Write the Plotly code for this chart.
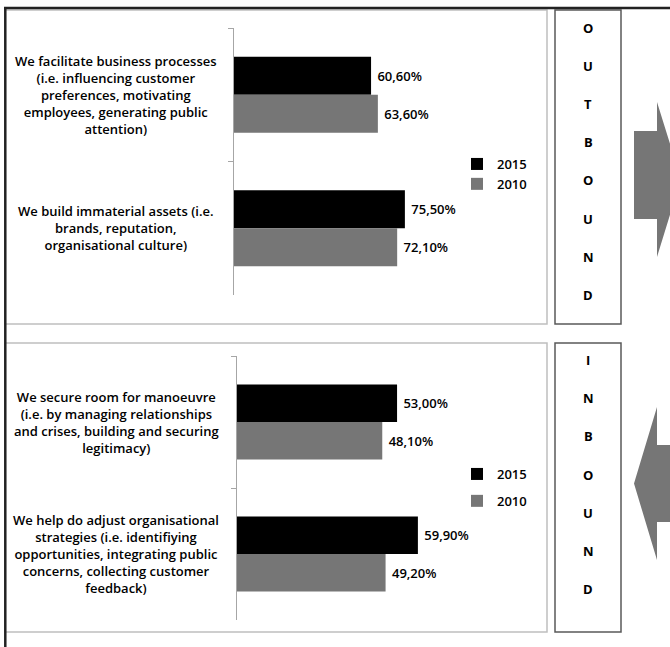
import plotly.graph_objects as go

# ---- data -------------------------------------------------------------
outbound_categories = [
    "We facilitate business processes<br>(i.e. influencing customer<br>preferences, motivating<br>employees, generating public<br>attention)",
    "We build immaterial assets (i.e.<br>brands, reputation,<br>organisational culture)",
]
outbound_2015 = [60.6, 75.5]
outbound_2010 = [63.6, 72.1]

inbound_categories = [
    "We secure room for manoeuvre<br>(i.e. by managing relationships<br>and crises, building and securing<br>legitimacy)",
    "We help do adjust organisational<br>strategies (i.e. identifiying<br>opportunities, integrating public<br>concerns, collecting customer<br>feedback)",
]
inbound_2015 = [53.0, 59.9]
inbound_2010 = [48.1, 49.2]

series_names = ["2015", "2010"]
outbound_letters = list("OUTBOUND")
inbound_letters = list("INBOUND")

# ---- styling ----------------------------------------------------------
W, H = 670, 647
FONT = "Open Sans"
BLACK = "#000000"
GREY = "#767676"
AXIS_GREY = "#a6a6a6"
PANEL_GREY = "#bfbfbf"
BOX_GREY = "#595959"


def px(xp):
    return xp / W


def py(yp):
    return 1 - yp / H


fig = go.Figure()

value_font = dict(family=FONT, size=13, color="black", weight=600)


def add_bars(cats, v2015, v2010, xa, ya, legend):
    for name, vals, color in ((series_names[0], v2015, BLACK), (series_names[1], v2010, GREY)):
        fig.add_trace(go.Bar(
            y=cats, x=vals, name=name, orientation="h",
            marker=dict(color=color, line=dict(width=0)),
            texttemplate="\u00a0%{x:.2f}%", textposition="outside",
            textfont=value_font, constraintext="none", cliponaxis=False,
            xaxis=xa, yaxis=ya, legend=legend, legendgroup=legend + name,
            hoverinfo="skip",
        ))


add_bars(outbound_categories, outbound_2015, outbound_2010, "x", "y", "legend")
add_bars(inbound_categories, inbound_2015, inbound_2010, "x2", "y2", "legend2")

yaxis_common = dict(
    type="category", showline=True, linecolor=AXIS_GREY, linewidth=1,
    ticks="outside", tickson="boundaries", ticklen=5, tickcolor=AXIS_GREY,
    showticklabels=False, showgrid=False, zeroline=False, range=[1.5, -0.5],
)
xaxis_common = dict(visible=False, showgrid=False, zeroline=False)
legend_font = dict(family=FONT, size=13, color="black", weight=600)

fig.update_layout(
    width=W, height=H, margin=dict(l=0, r=0, t=0, b=0),
    paper_bgcolor="white", plot_bgcolor="rgba(0,0,0,0)",
    barmode="group", bargap=0.43, bargroupgap=0, separators=",.",
    font=dict(family=FONT, size=13, color="black"),
    xaxis=dict(domain=[px(233.5), px(460.5)], range=[0, 100], anchor="y", **xaxis_common),
    yaxis=dict(domain=[py(295), py(28)], anchor="x", **yaxis_common),
    xaxis2=dict(domain=[px(237), px(448.4)], range=[0, 70], anchor="y2", **xaxis_common),
    yaxis2=dict(domain=[py(620), py(356)], anchor="x2", **yaxis_common),
    legend=dict(x=px(457), y=py(149), xanchor="left", yanchor="top",
                bgcolor="rgba(0,0,0,0)", borderwidth=0, traceorder="normal",
                font=legend_font),
    legend2=dict(x=px(457), y=py(459), xanchor="left", yanchor="top",
                 bgcolor="rgba(0,0,0,0)", borderwidth=0, traceorder="grouped",
                 tracegroupgap=7, font=legend_font),
)

# category labels, centred to the left of each axis
annotations = []
for cats, ya, cx in ((outbound_categories, "y", 116), (inbound_categories, "y2", 116)):
    for c in cats:
        annotations.append(dict(
            x=px(cx), xref="paper", y=c, yref=ya, text=c, showarrow=False,
            align="center", xanchor="center", yanchor="middle",
            font=dict(family=FONT, size=13, color="black", weight=600),
        ))


# vertical letters in the side boxes
def letter_column(letters, top, step):
    for i, ch in enumerate(letters):
        annotations.append(dict(
            x=px(588), y=py(top + i * step), xref="paper", yref="paper",
            text=ch, showarrow=False, xanchor="center", yanchor="middle",
            font=dict(family=FONT, size=13, color="black", weight="bold"),
        ))


letter_column(outbound_letters, 28, 38.1)
letter_column(inbound_letters, 360, 38.2)
fig.update_layout(annotations=annotations)

shapes = []
# panel frames
for top, bottom in ((10, 324), (343, 632)):
    shapes.append(dict(type="rect", xref="paper", yref="paper",
                       x0=px(5), x1=px(547), y0=py(bottom), y1=py(top),
                       line=dict(color=PANEL_GREY, width=1.5)))
    shapes.append(dict(type="rect", xref="paper", yref="paper",
                       x0=px(555), x1=px(621), y0=py(bottom), y1=py(top),
                       line=dict(color=BOX_GREY, width=1.5)))
# outer frame (top and left edges)
shapes.append(dict(type="line", xref="paper", yref="paper",
                   x0=px(4), x1=px(680), y0=py(8), y1=py(8),
                   line=dict(color="#222222", width=2.5)))
shapes.append(dict(type="line", xref="paper", yref="paper",
                   x0=px(5.3), x1=px(5.3), y0=py(7), y1=py(660),
                   line=dict(color="#222222", width=2.5)))


def path(points):
    return "M " + " L ".join(f"{px(a):.5f},{py(b):.5f}" for a, b in points) + " Z"


# outbound arrow pointing right
shapes.append(dict(type="path", xref="paper", yref="paper", line=dict(width=0),
                   fillcolor=GREY,
                   path=path([(634, 131), (657, 131), (657, 102), (681, 179),
                              (657, 257), (657, 219), (634, 219)])))
# inbound arrow pointing left
shapes.append(dict(type="path", xref="paper", yref="paper", line=dict(width=0),
                   fillcolor=GREY,
                   path=path([(634, 483.5), (657, 407), (657, 445), (700, 445),
                              (700, 522), (657, 522), (657, 560)])))
fig.update_layout(shapes=shapes)

fig.write_html("out.html")
